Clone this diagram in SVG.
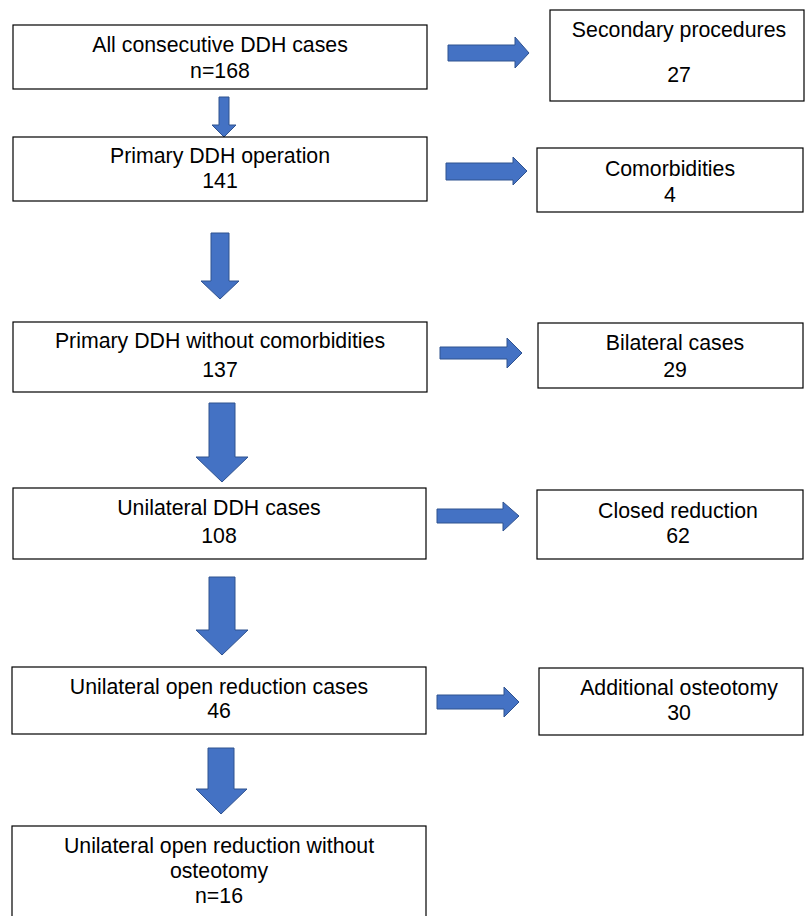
<svg xmlns="http://www.w3.org/2000/svg" width="807" height="916" viewBox="0 0 807 916">
<style>
.box{fill:#fff;stroke:#000;stroke-width:1.2}
.arr{fill:#4472C4;stroke:#2F528F;stroke-width:1}
text{font-family:"Liberation Sans",Arial,sans-serif;font-size:21.3px;fill:#000;text-anchor:middle}
</style>
<rect width="807" height="916" fill="#fff"/>
<g id="connectors">
<polygon class="arr" points="448,45 515,45 515,37 529,53 515,68 515,61 448,61"/>
<polygon class="arr" points="446,163 513,163 513,157 527,171 513,185 513,180 446,180"/>
<polygon class="arr" points="440,347 507,347 507,338 522,353 507,368 507,359 440,359"/>
<polygon class="arr" points="437,509 503,509 503,502 519,516 503,531 503,523 437,523"/>
<polygon class="arr" points="437,695 504,695 504,687 519,702 504,717 504,709 437,709"/>
<polygon class="arr" points="219,97 229,97 229,125 236,125 224,137 212,125 219,125"/>
<polygon class="arr" points="211,233 229,233 229,281 239,281 220,299 201,281 211,281"/>
<polygon class="arr" points="209,403 235,403 235,457 248,457 222,482 196,457 209,457"/>
<polygon class="arr" points="209,577 235,577 235,630 248,630 222,655 196,630 209,630"/>
<polygon class="arr" points="208,748 234,748 234,789 247,789 221,814 196,789 208,789"/>
</g>
<g id="n1"><rect class="box" x="13" y="25" width="414" height="64"/><text x="220" y="52">All consecutive DDH cases</text><text x="220" y="78">n=168</text></g>
<g id="n2"><rect class="box" x="550" y="10" width="254" height="91"/><text x="679" y="37">Secondary procedures</text><text x="679" y="82">27</text></g>
<g id="n3"><rect class="box" x="13" y="137" width="414" height="64"/><text x="220" y="163">Primary DDH operation</text><text x="220" y="188">141</text></g>
<g id="n4"><rect class="box" x="537" y="148" width="266" height="64"/><text x="670" y="176">Comorbidities</text><text x="670" y="202">4</text></g>
<g id="n5"><rect class="box" x="13" y="322" width="414" height="70"/><text x="220" y="348">Primary DDH without comorbidities</text><text x="220" y="377">137</text></g>
<g id="n6"><rect class="box" x="538" y="323" width="265" height="65"/><text x="675" y="350">Bilateral cases</text><text x="675" y="377">29</text></g>
<g id="n7"><rect class="box" x="13" y="488" width="413" height="71"/><text x="219" y="515">Unilateral DDH cases</text><text x="219" y="543">108</text></g>
<g id="n8"><rect class="box" x="537" y="490" width="266" height="69"/><text x="678" y="518">Closed reduction</text><text x="678" y="543">62</text></g>
<g id="n9"><rect class="box" x="12" y="667" width="414" height="67"/><text x="219" y="694">Unilateral open reduction cases</text><text x="219" y="718">46</text></g>
<g id="n10"><rect class="box" x="539" y="668" width="264" height="67"/><text x="679" y="695">Additional osteotomy</text><text x="679" y="720">30</text></g>
<g id="n11"><rect class="box" x="12" y="826" width="414" height="104"/><text x="219" y="853">Unilateral open reduction without</text><text x="219" y="878">osteotomy</text><text x="219" y="903">n=16</text></g>
</svg>
